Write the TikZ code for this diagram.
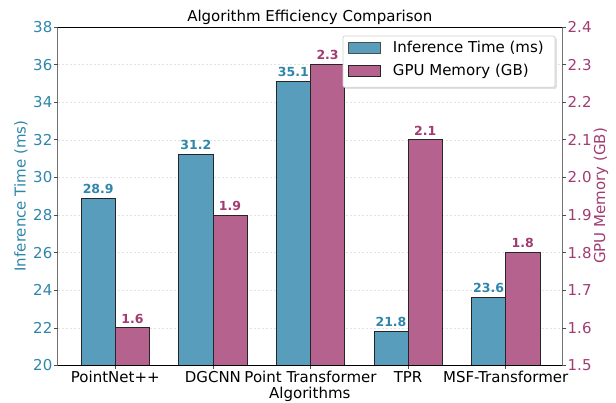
\documentclass[tikz,border=0pt]{standalone}
\usepackage{fontspec}
\setmainfont{DejaVu Sans}
\definecolor{tblue}{HTML}{2E86AB}
\definecolor{tmag}{HTML}{A23B72}
\definecolor{fblue}{RGB}{88,158,188}
\definecolor{fmag}{RGB}{181,98,142}
\begin{document}
\begin{tikzpicture}[x=1pt,y=-1pt,
  txt/.style={font=\fontsize{15}{18}\selectfont, inner sep=0pt},
  vallab/.style={font=\fontsize{12.5}{15}\selectfont\bfseries, inner sep=0pt, anchor=south},
  bar/.style={draw=black!85, line width=0.8pt},
  gridline/.style={gray!22, line width=0.6pt, dash pattern=on 2.5pt off 1.5pt},
  tickmark/.style={line width=0.7pt, black!70},
  spine/.style={line width=0.9pt}]
\useasboundingbox (0,0) rectangle (616,403);
% plot frame: x 57.5..562, y 27..365.5
\def\L{57.5}\def\R{562}\def\T{27}\def\B{365.5}
\def\ys{18.806}   % px per ms
\def\ms{376.1}    % px per GB
% grid lines
\foreach \v in {22,24,...,36}
  \draw[gridline] (\L,{\B-(\v-20)*\ys}) -- (\R,{\B-(\v-20)*\ys});
% bars
\foreach \i/\t/\g in {0/28.9/1.6, 1/31.2/1.9, 2/35.1/2.3, 3/21.8/2.1, 4/23.6/1.8}{
  \pgfmathsetmacro{\cx}{115.3+97.6*\i}
  \pgfmathsetmacro{\ty}{\B-(\t-20)*\ys}
  \pgfmathsetmacro{\gy}{\B-(\g-1.5)*\ms}
  \filldraw[bar, fill=fblue] ({\cx-34.2},\B) rectangle (\cx,\ty);
  \filldraw[bar, fill=fmag] (\cx,\B) rectangle ({\cx+34.2},\gy);
  \node[vallab, text=tblue] (vt\i) at ({\cx-17.1},{\ty-4.5}) {\t};
  \node[vallab, text=tmag] (vg\i) at ({\cx+17.1},{\gy-4.5}) {\g};
  \draw[tickmark] (\cx,\B) -- (\cx,\B+4);
}
% spines
\draw[spine, black] (\L,\T) -- (\R,\T);
\draw[spine, black] (\L,\B) -- (\R,\B);
\draw[spine, black!55] (\L,\T) -- (\L,\B);
\draw[spine, black!55] (\R,\T) -- (\R,\B);
% left axis ticks
\foreach \v in {20,22,...,38}{
  \draw[tickmark] (\L,{\B-(\v-20)*\ys}) -- (\L-4,{\B-(\v-20)*\ys});
  \node[txt, text=tblue, anchor=east] (ly\v) at (52.5,{\B-(\v-20)*\ys}) {\v};
}
% right axis ticks
\foreach \k/\lab in {0/1.5,1/1.6,2/1.7,3/1.8,4/1.9,5/2.0,6/2.1,7/2.2,8/2.3,9/2.4}{
  \draw[tickmark] (\R,{\B-\k*37.61}) -- (\R+4,{\B-\k*37.61});
  \node[txt, text=tmag, anchor=west] (ry\k) at (567.5,{\B-\k*37.61}) {\lab};
}
% category labels
\foreach \i/\name in {0/PointNet++, 1/DGCNN, 2/Point Transformer, 3/TPR, 4/MSF-Transformer}
  \node[txt, anchor=base] (cat\i) at ({115.3+97.6*\i},382.5) {\name};
\node[txt, anchor=base] (xlab) at (309.8,398.5) {Algorithms};
\node[txt, text=tblue, rotate=90] (ylab) at (21,196) {Inference Time (ms)};
\node[txt, text=tmag, rotate=90] (y2lab) at (601,196) {GPU Memory (GB)};
\node[txt, anchor=base] (title) at (309.8,21.5) {Algorithm Efficiency Comparison};
% legend
\fill[black!12, rounded corners=2pt] (344.5,37.5) rectangle (556.8,89);
\filldraw[fill=white, draw=black!18, line width=0.7pt, rounded corners=2pt] (343,36) rectangle (555,87.3);
\filldraw[bar, fill=fblue, draw=black!70] (348.3,42.3) rectangle (380,53.3);
\filldraw[bar, fill=fmag] (348.3,65.7) rectangle (380,76.7);
\node[txt, anchor=west] (leg1) at (392.7,47.8) {Inference Time (ms)};
\node[txt, anchor=west] (leg2) at (392.7,71.2) {GPU Memory (GB)};
\end{tikzpicture}
\end{document}
